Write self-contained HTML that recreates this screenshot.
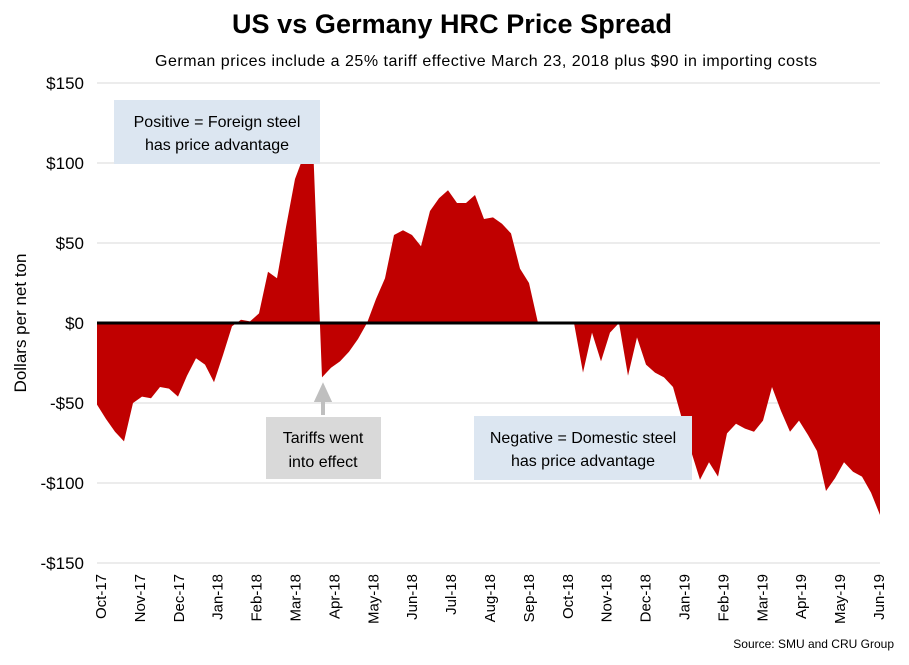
<!DOCTYPE html>
<html><head><meta charset="utf-8"><style>
body{margin:0;background:#fff;font-family:"Liberation Sans",sans-serif}
svg text{font-family:"Liberation Sans",sans-serif}
</style></head><body>
<svg id="c" width="909" height="660">
<text x="452" y="33" text-anchor="middle" font-size="27" font-weight="bold" fill="#000" textLength="440">US vs Germany HRC Price Spread</text>
<text x="486" y="66" text-anchor="middle" font-size="16" fill="#000" textLength="662">German prices include a 25% tariff effective March 23, 2018 plus $90 in importing costs</text>
<text transform="translate(26,323) rotate(-90)" text-anchor="middle" font-size="17" fill="#000">Dollars per net ton</text>
<g id="grid"></g><g id="area"></g><g id="xl"></g><g id="yl"></g>
<rect x="114" y="100" width="206" height="64" fill="#dce6f1"/>
<text x="217" y="127" text-anchor="middle" font-size="16">Positive = Foreign steel</text>
<text x="217" y="150" text-anchor="middle" font-size="16">has price advantage</text>
<rect x="266" y="417" width="115" height="62" fill="#d9d9d9"/>
<text x="323" y="443" text-anchor="middle" font-size="16">Tariffs went</text>
<text x="323" y="467" text-anchor="middle" font-size="16">into effect</text>
<path d="M323 415 L323 398 M317 400 L323 387 L329 400 Z" stroke="#bfbfbf" stroke-width="4" fill="#bfbfbf"/>
<rect x="474" y="416" width="218" height="64" fill="#dce6f1"/>
<text x="583" y="443" text-anchor="middle" font-size="16">Negative = Domestic steel</text>
<text x="583" y="466" text-anchor="middle" font-size="16">has price advantage</text>
<text x="894" y="648" text-anchor="end" font-size="12">Source: SMU and CRU Group</text>
</svg>
<script>
const months=["Oct-17","Nov-17","Dec-17","Jan-18","Feb-18","Mar-18","Apr-18","May-18","Jun-18","Jul-18","Aug-18","Sep-18","Oct-18","Nov-18","Dec-18","Jan-19","Feb-19","Mar-19","Apr-19","May-19","Jun-19"];
const yTicks=[150,100,50,0,-50,-100,-150];
const yTickLabels=["$150","$100","$50","$0","-$50","-$100","-$150"];
const spread=[-51,-60,-68,-74,-50,-46,-47,-40,-41,-46,-33,-22,-26,-37,-20,-2,2,1,6,32,28,60,90,105,112,-34,-28,-24,-18,-10,0,15,28,55,58,55,48,70,78,83,75,75,80,65,66,62,56,34,25,0,0,0,0,0,-31,-6,-24,-6,0,-33,-9,-26,-31,-34,-40,-60,-80,-98,-87,-96,-69,-63,-66,-68,-61,-40,-55,-68,-61,-70,-80,-105,-97,-87,-93,-96,-106,-120];
const X0=97,X1=880,Y0=323,PPD=1.6;
const xs=i=>X0+(X1-X0)*i/(spread.length-1);
const ys=v=>Y0-v*PPD;
const xm=i=>100+(878-100)*i/(months.length-1);
const NS="http://www.w3.org/2000/svg";
function mk(t,p,a){const e=document.createElementNS(NS,t);for(const k in a)e.setAttribute(k,a[k]);document.getElementById(p).appendChild(e);return e;}
yTicks.forEach((v,i)=>{
 if(v!==0){const g=mk("line","grid",{x1:X0,x2:X1,y1:ys(v),y2:ys(v),stroke:"#d9d9d9","stroke-width":1});
 
 }
 const t=mk("text","yl",{x:84,y:ys(v)+6,"text-anchor":"end","font-size":17});
 t.textContent=yTickLabels[i];
 
 
});
let d=`M${xs(0)} ${Y0}`;spread.forEach((v,i)=>d+=` L${xs(i)} ${ys(v)}`);d+=` L${xs(spread.length-1)} ${Y0} Z`;
const a=mk("path","area",{d:d,fill:"#c00000"});


const z=mk("line","area",{x1:X0,x2:X1,y1:Y0,y2:Y0,stroke:"#000","stroke-width":3});


months.forEach((m,i)=>{
 const t=mk("text","xl",{transform:`translate(${xm(i)+6},574) rotate(-90)`,"text-anchor":"end","font-size":15});
 t.textContent=m;
 
 
});
</script>
</body></html>
